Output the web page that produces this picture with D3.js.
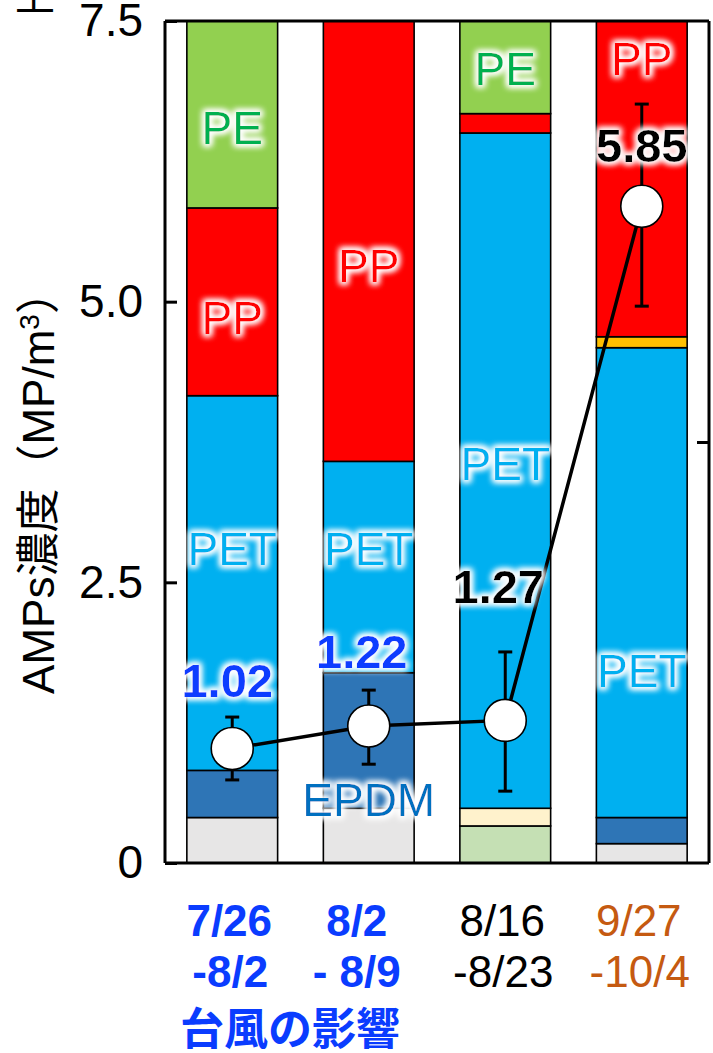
<!DOCTYPE html>
<html>
<head>
<meta charset="utf-8">
<script src="https://cdn.jsdelivr.net/npm/d3@7"></script>
<style>
  body { margin: 0; background: #fff; }
  svg { display: block; font-family: "Liberation Sans", Arial, sans-serif; }
</style>
</head>
<body>
<div id="chart"></div>
<script>
// ---------- data ----------
const periods = ["7/26-8/2", "8/2-8/9", "8/16-8/23", "9/27-10/4"];
const dateLine1 = ["7/26", "8/2", "8/16", "9/27"];
const dateLine2 = ["-8/2", "- 8/9", "-8/23", "-10/4"];
const typhoonNote = "台風の影響";

// polymer share of each sample (%), bottom to top of the stack
const polymers = ["Other", "OtherG", "OtherY", "EPDM", "PET", "OtherO", "PP", "PE"];
const shareOther  = [5.4, 6.5, 0, 2.3];
const shareOtherG = [0, 0, 4.4, 0];
const shareOtherY = [0, 0, 2.1, 0];
const shareEPDM   = [5.6, 16.1, 0, 3.1];
const sharePET    = [44.5, 25.1, 80.2, 55.8];
const shareOtherO = [0, 0, 0, 1.3];
const sharePP     = [22.3, 52.3, 2.3, 37.5];
const sharePE     = [22.2, 0, 11.0, 0];

// total AMPs concentration (MP/m3) with error range
const amps     = [1.02, 1.22, 1.27, 5.85];
const ampsLow  = [0.74, 0.88, 0.64, 4.96];
const ampsHigh = [1.30, 1.54, 1.88, 6.76];

const yTicks = [0, 2.5, 5.0, 7.5];
const yTickLabels = ["0", "2.5", "5.0", "7.5"];

// ---------- styles / layout ----------
const width = 713, height = 1053;
const plot = { left: 165, right: 709, top: 21, bottom: 863 };

const fillColor = {
  Other: "#E7E6E6", OtherG: "#C5E0B4", OtherY: "#FFF2CC", EPDM: "#2E75B6",
  PET: "#00B0F0", OtherO: "#FFC000", PP: "#FF0000", PE: "#92D050"
};
const textColor = { PE: "#00B050", PP: "#FF0000", PET: "#00B0F0", EPDM: "#0070C0" };
const dateColor = ["#0A3CFF", "#0A3CFF", "#000000", "#C55A11"];
const dateWeight = ["bold", "bold", "normal", "normal"];
const valueColor = ["#0A3CFF", "#0A3CFF", "#000000", "#000000"];

// label placement (bar index, polymer, height in % of the stack)
const barLabels = [
  { i: 0, name: "PE", at: 87.4 }, { i: 0, name: "PP", at: 64.8 }, { i: 0, name: "PET", at: 37.4 },
  { i: 1, name: "PP", at: 71.0 }, { i: 1, name: "PET", at: 37.4 }, { i: 1, name: "EPDM", at: 7.5 },
  { i: 2, name: "PE", at: 94.4 }, { i: 2, name: "PET", at: 47.5 },
  { i: 3, name: "PP", at: 95.6 }, { i: 3, name: "PET", at: 22.9 }
];
// value label baseline (in MP/m3 units) and x shift
const valueLabelAt = [1.48, 1.74, 2.32, 6.24];
const valueLabelDx = [-5, -7, -7, 0];

// ---------- build ----------
const shares = [shareOther, shareOtherG, shareOtherY, shareEPDM, sharePET, shareOtherO, sharePP, sharePE];
const table = periods.map((p, i) => {
  const row = { period: p };
  polymers.forEach((k, j) => row[k] = shares[j][i]);
  return row;
});
const series = d3.stack().keys(polymers)(table);

const svg = d3.select("#chart").append("svg")
  .attr("width", width).attr("height", height);

// soft white halo behind annotation text
const defs = svg.append("defs");
const f = defs.append("filter").attr("id", "glow")
  .attr("x", "-30%").attr("y", "-30%").attr("width", "160%").attr("height", "160%");
f.append("feMorphology").attr("in", "SourceAlpha").attr("operator", "dilate").attr("radius", 2).attr("result", "d");
f.append("feGaussianBlur").attr("in", "d").attr("stdDeviation", 3).attr("result", "b");
f.append("feFlood").attr("flood-color", "#fff").attr("result", "w");
f.append("feComposite").attr("in", "w").attr("in2", "b").attr("operator", "in").attr("result", "g");
const fm = f.append("feMerge");
fm.append("feMergeNode").attr("in", "g");
fm.append("feMergeNode").attr("in", "g");
fm.append("feMergeNode").attr("in", "SourceGraphic");

const x = d3.scaleBand().domain(periods)
  .range([plot.left, plot.right])
  .paddingInner(0.335).paddingOuter(0.16);
const y = d3.scaleLinear().domain([0, 7.5]).range([plot.bottom, plot.top]);
const yPct = d3.scaleLinear().domain([0, 100]).range([plot.bottom, plot.top]);

// stacked bars
svg.append("g").selectAll("g")
  .data(series)
  .join("g")
  .attr("fill", d => fillColor[d.key])
  .selectAll("rect")
  .data(d => d.filter(s => s[1] - s[0] > 0))
  .join("rect")
  .attr("x", d => x(d.data.period))
  .attr("width", x.bandwidth())
  .attr("y", d => yPct(d[1]))
  .attr("height", d => yPct(d[0]) - yPct(d[1]))
  .attr("stroke", "#000")
  .attr("stroke-width", 1.6);

// polymer labels in the bars
svg.append("g").selectAll("text")
  .data(barLabels)
  .join("text")
  .attr("x", d => x(periods[d.i]) + x.bandwidth() / 2)
  .attr("y", d => yPct(d.at))
  .attr("dy", "0.36em")
  .attr("text-anchor", "middle")
  .attr("font-size", 46)
  .attr("fill", d => textColor[d.name])
  .attr("filter", "url(#glow)")
  .text(d => d.name);

// frame and axes
const frame = svg.append("g").attr("stroke", "#000").attr("stroke-width", 3);
frame.append("line").attr("x1", plot.left).attr("x2", plot.right).attr("y1", plot.top).attr("y2", plot.top);
frame.append("line").attr("x1", plot.left).attr("x2", plot.right).attr("y1", plot.bottom).attr("y2", plot.bottom);
frame.append("line").attr("x1", plot.left).attr("x2", plot.left).attr("y1", plot.top).attr("y2", plot.bottom);
frame.append("line").attr("x1", plot.right).attr("x2", plot.right).attr("y1", plot.top).attr("y2", plot.bottom);

const leftAxis = d3.axisLeft(y).tickValues(yTicks).tickSize(-12).tickPadding(22)
  .tickFormat((d, i) => yTickLabels[i]);
const gl = svg.append("g").attr("transform", `translate(${plot.left},0)`).call(leftAxis);
gl.select(".domain").remove();
gl.selectAll(".tick line").attr("stroke", "#000").attr("stroke-width", 3);
gl.selectAll(".tick text").attr("font-size", 46).attr("fill", "#000")
  .attr("font-family", "Liberation Sans, Arial, sans-serif");

const rightAxis = d3.axisRight(yPct).tickValues([50]).tickSize(-12).tickFormat("");
const gr = svg.append("g").attr("transform", `translate(${plot.right},0)`).call(rightAxis);
gr.select(".domain").remove();
gr.selectAll(".tick line").attr("stroke", "#000").attr("stroke-width", 3);

// y axis title
svg.append("text")
  .attr("transform", `translate(38, 482) rotate(-90)`)
  .attr("text-anchor", "middle")
  .attr("dy", "0.36em")
  .attr("font-size", 44)
  .attr("font-family", "Liberation Sans, 'Noto Sans CJK JP', sans-serif")
  .call(t => {
    t.append("tspan").text("AMPs濃度（MP/m");
    t.append("tspan").attr("baseline-shift", "super").attr("font-size", 28).text("3");
    t.append("tspan").text("）");
  });

// cut-off character at the top left
svg.append("text").attr("x", 35).attr("y", 10).attr("text-anchor", "middle")
  .attr("font-size", 40).attr("font-family", "Noto Sans CJK JP").text("上");

// category labels
const cx = i => x(periods[i]) + x.bandwidth() / 2;
const cat = svg.append("g").attr("text-anchor", "middle").attr("font-size", 44);
cat.selectAll("text.l1").data(dateLine1).join("text").attr("class", "l1")
  .attr("x", (d, i) => cx(i) - (i === 1 ? 12 : 3)).attr("y", 936)
  .attr("fill", (d, i) => dateColor[i]).attr("font-weight", (d, i) => dateWeight[i]).text(d => d);
cat.selectAll("text.l2").data(dateLine2).join("text").attr("class", "l2")
  .attr("x", (d, i) => cx(i) - (i === 1 ? 12 : 2)).attr("y", 987)
  .attr("fill", (d, i) => dateColor[i]).attr("font-weight", (d, i) => dateWeight[i]).text(d => d);
svg.append("text").attr("x", 180).attr("y", 1045)
  .attr("font-size", 44).attr("font-weight", "bold").attr("fill", "#0A3CFF")
  .attr("font-family", "'Noto Sans CJK JP', sans-serif")
  .text(typhoonNote);

// concentration line, error bars, points
const line = d3.line().x((d, i) => cx(i)).y(d => y(d));
svg.append("path").datum(amps).attr("d", line)
  .attr("fill", "none").attr("stroke", "#000").attr("stroke-width", 3.5);

const err = svg.append("g").attr("stroke", "#000").attr("stroke-width", 3);
amps.forEach((v, i) => {
  err.append("line").attr("x1", cx(i)).attr("x2", cx(i)).attr("y1", y(ampsLow[i])).attr("y2", y(ampsHigh[i]));
  [ampsLow[i], ampsHigh[i]].forEach(e => {
    err.append("line").attr("x1", cx(i) - 7).attr("x2", cx(i) + 7).attr("y1", y(e)).attr("y2", y(e));
  });
});

svg.append("g").selectAll("circle")
  .data(amps)
  .join("circle")
  .attr("cx", (d, i) => cx(i))
  .attr("cy", d => y(d))
  .attr("r", 21)
  .attr("fill", "#fff")
  .attr("stroke", "#000")
  .attr("stroke-width", 1.6);

// value labels
svg.append("g").selectAll("text")
  .data(amps)
  .join("text")
  .attr("x", (d, i) => cx(i) + valueLabelDx[i])
  .attr("y", (d, i) => y(valueLabelAt[i]))
  .attr("text-anchor", "middle")
  .attr("font-size", 47)
  .attr("font-weight", "bold")
  .attr("fill", (d, i) => valueColor[i])
  .attr("filter", "url(#glow)")
  .text(d => d.toFixed(2));
</script>
</body>
</html>
